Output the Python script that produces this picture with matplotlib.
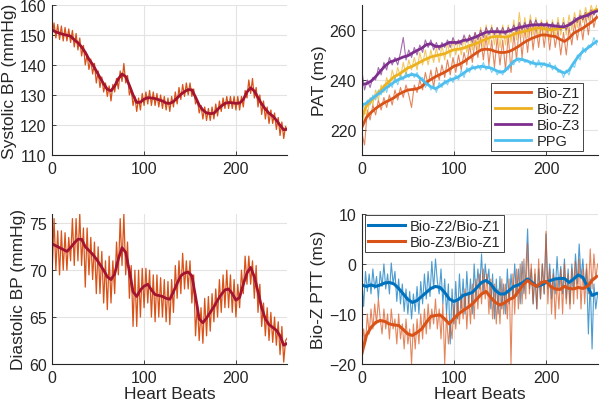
import numpy as np
import matplotlib
matplotlib.use('Agg')
import matplotlib.pyplot as plt

# ---------------- data ----------------
# blood pressure: raw every 2 beats, smoothed every 4 beats
bp_raw_beats = np.arange(0, 257, 2)
bp_smooth_beats = np.arange(0, 257, 4)

sbp_raw = [150, 154, 149, 153.5, 148.5, 153, 148, 152.5, 148, 152, 147.5, 151.5, 146, 150.5, 145, 149,
           143, 146.5, 140, 143.5, 138.5, 142, 137, 140.5, 134, 138, 132.5, 136, 131, 134, 129.5, 133,
           128, 133.5, 131, 135.5, 132, 138, 134.5, 140.5, 134, 136.5, 130, 132, 126.5, 129.5, 124.5, 129,
           125, 130.5, 126.5, 131, 127, 131.5, 126.5, 131, 126.5, 130.5, 126, 130, 125.5, 129.5, 125, 129,
           124.5, 129.5, 126, 131, 127, 132.5, 128.5, 133.5, 129.5, 134, 130, 134, 129.5, 132, 127, 128.5,
           124, 126.5, 122, 126, 121.5, 125.5, 121.5, 126, 122, 127, 123, 128, 124.5, 129, 125.5, 129.5,
           125.5, 129.5, 125.5, 129.5, 125, 129.5, 125, 129.5, 126, 131.5, 129, 135, 130.5, 135.5, 129, 132.5,
           126, 130, 123.5, 128, 122, 126, 120.5, 125, 120.5, 124, 118.5, 122.5, 116.5, 121, 115.5, 119.5,
           118]
sbp_smooth = [151.7, 151, 150.6, 150.2, 149.9, 149.6, 148.4, 147.4, 146, 144.2, 141.9, 140.2, 138, 135.8,
              133.7, 131.9, 131.4, 133, 135.4, 137, 136.1, 133.2, 130, 127.5, 127.6, 128.6, 129.1, 129,
              128.8, 128.4, 128, 127.3, 127.2, 127.8, 129, 130.2, 131.1, 131.8, 131.7, 129.3, 126.6, 125,
              124, 123.8, 123.9, 125.2, 126.3, 127.2, 127.5, 127.4, 127.2, 127.3, 128.5, 131, 132.4, 131.3,
              129.1, 127, 125.3, 123.9, 123, 121.6, 119.9, 118.4, 118.6]

dbp_raw = [70, 75.5, 70, 74.2, 69.5, 74.2, 70, 74, 70, 73.5, 71, 75.5, 70.5, 75.5, 71, 76,
           70.5, 74.5, 68.2, 74.5, 69.5, 73.5, 69, 73, 67.5, 72.5, 67.5, 72, 66.5, 71, 65.8, 71.5,
           66.5, 71, 67.5, 73, 69.5, 75.5, 70.5, 76, 69.5, 73, 67, 70.5, 64, 70, 64, 70,
           65, 70.2, 66, 70.2, 66.5, 70, 65, 69.5, 64.5, 69.5, 65, 69.2, 65, 69, 64.5, 68.8,
           64.2, 69, 65.5, 70.5, 67, 71, 67.5, 71.8, 68, 71, 68, 71, 66.5, 69.5, 63, 66.5,
           62.5, 66, 62.2, 67, 63, 67.2, 63.5, 67.5, 64.5, 68, 65, 69, 65.5, 69.5, 66, 70,
           66, 69.5, 65.5, 69, 65, 68.5, 66, 70, 67.5, 71.5, 68.5, 71.5, 68.5, 71, 67, 70.5,
           65.5, 68.5, 64, 66.5, 63, 66, 62.5, 65.5, 62.3, 65, 62, 64.5, 61, 64, 60.2, 62.5,
           62.8]
dbp_smooth = [72.8, 72.6, 72.4, 72.2, 72, 72.4, 72.9, 73.3, 73.3, 72.5, 72.1, 71.7, 71.2, 70.6, 70,
              69.3, 69, 69.6, 71.2, 72.4, 71.9, 69.9, 67.7, 67.2, 67.9, 68.3, 68.5, 67.9, 67.4, 67.3,
              67.2, 67, 66.9, 67.7, 68.6, 69.4, 69.7, 69.8, 69.4, 67.2, 64.8, 64.4, 64.9, 65.5, 66.1,
              66.8, 67.4, 67.9, 68, 67.5, 66.8, 67.1, 68.5, 69.7, 70.3, 69.3, 67.7, 66, 64.8, 64.2,
              63.9, 63.6, 63, 62, 62.2]

# pulse arrival time: raw every 3 beats, smoothed every 5 beats
pat_raw_beats = np.arange(0, 256, 3)
smooth5_beats = np.arange(0, 256, 5)
pat_names = ['Bio-Z1', 'Bio-Z2', 'Bio-Z3', 'PPG']

pat_z1_raw = [219, 214, 228, 224, 230, 226, 232, 228, 233, 229, 234, 230, 236, 232, 237, 233, 238, 234,
              229, 238, 235, 240, 236, 243, 238, 244, 237, 245, 240, 246, 241, 248, 242, 249, 243, 250,
              244, 251, 246, 254, 247, 256, 249, 257, 248, 258, 246, 256, 245, 257, 246, 256, 244, 258,
              243, 259, 248, 262, 249, 261, 251, 263, 252, 262, 253, 263, 253, 262, 252, 262, 253, 260,
              250, 259, 250, 261, 254, 263, 256, 264, 256, 266, 258, 268, 261, 266]
pat_z2_raw = [222, 227, 226, 233, 230, 236, 232, 238, 235, 241, 237, 244, 240, 245, 241, 247, 242, 248,
              244, 249, 244, 251, 246, 252, 246, 252, 247, 253, 247, 254, 248, 255, 249, 256, 250, 256,
              250, 257, 251, 258, 252, 259, 252, 261, 253, 262, 254, 262, 254, 261, 253, 262, 254, 262,
              255, 264, 256, 267, 257, 265, 257, 266, 258, 265, 257, 264, 257, 264, 256, 264, 257, 265,
              258, 265, 258, 266, 260, 267, 261, 268, 263, 269, 264, 270, 266, 270]
pat_z3_raw = [244, 236, 240, 237, 241, 240, 245, 242, 247, 244, 249, 246, 249, 246, 251, 257, 248, 252,
              249, 253, 250, 254, 251, 256, 253, 256, 252, 255, 252, 255, 253, 256, 253, 257, 254, 256,
              254, 258, 255, 258, 255, 259, 256, 260, 257, 261, 258, 261, 258, 261, 258, 261, 258, 261,
              259, 262, 259, 263, 260, 263, 260, 264, 261, 264, 261, 263, 261, 263, 260, 263, 260, 263,
              260, 263, 260, 263, 262, 265, 263, 266, 264, 267, 265, 268, 266, 268]
pat_ppg_raw = [232, 228, 232, 230, 234, 232, 236, 234, 238, 235, 239, 237, 241, 238, 242, 240, 243, 241,
               243, 241, 243, 240, 241, 237, 239, 236, 238, 235, 239, 237, 240, 238, 241, 239, 242, 240,
               244, 241, 245, 243, 246, 244, 246, 244, 247, 244, 246, 243, 245, 242, 244, 242, 245, 244,
               247, 246, 249, 247, 249, 247, 248, 246, 248, 245, 248, 245, 247, 245, 247, 244, 246, 243,
               244, 241, 244, 242, 246, 245, 250, 248, 253, 251, 254, 253, 257, 254]

pat_z1_smooth = [221, 225, 227, 228.6, 229.9, 231, 231.9, 232.9, 234.3, 235.2, 236, 236.2, 236.5, 237.3,
                 239.1, 240.2, 241.3, 242.2, 243.1, 244.2, 245.5, 246.1, 247.1, 248.4, 249.7, 251, 252.1,
                 252.3, 252.1, 251.4, 251, 251, 251.4, 252.3, 253.4, 254.7, 255.8, 256.7, 257.4, 258, 258,
                 257.6, 257.4, 256.3, 255.4, 256.7, 258.7, 259.7, 260.7, 262, 263.3, 265]
pat_z2_smooth = [225, 229.6, 231.6, 233.6, 235.6, 237.8, 239.5, 241.3, 242.2, 243.5, 244.8, 245.5, 246.5,
                 247.5, 248.4, 249.2, 249.7, 250.1, 250.5, 251.4, 252.1, 252.3, 252.7, 253.4, 254.1, 254.7,
                 255.6, 256.3, 257.1, 257.4, 257.4, 257.1, 257.4, 258.3, 258.9, 259.3, 259.7, 260.3, 260.7,
                 260.7, 260.3, 260, 260.3, 260.7, 261.1, 262, 263.3, 264.2, 265.3, 266.3, 267.3, 268.2]
pat_z3_smooth = [238.2, 238.5, 239.5, 241.3, 243.5, 245.5, 247.1, 247.7, 248.4, 249.2, 249.7, 250.8, 251.8,
                 252.7, 254.1, 254.5, 253.4, 253.4, 254.1, 255, 255, 255, 255.8, 256, 256.7, 257.4, 258.3,
                 259.1, 259.3, 259.3, 259.3, 259.1, 259.6, 260.3, 260.9, 261.3, 261.7, 262, 262.1, 262.1,
                 262.1, 261.8, 261.6, 261.3, 261.3, 262, 263.3, 264.6, 265.3, 265.9, 266.9, 267.5]
pat_ppg_smooth = [229.9, 230.7, 232.3, 233.6, 234.9, 236.5, 237.8, 239.1, 240.2, 240.9, 241.8, 242.2, 241.8,
                  240.2, 238.6, 237.3, 236.5, 237.6, 238.9, 239.9, 240.5, 241.3, 242.6, 243.9, 244.8, 245.1,
                  245.5, 245.1, 244.8, 243.9, 243.1, 243.5, 245.5, 247.5, 248.4, 248.1, 247.5, 246.8, 246.4,
                  246.5, 246.1, 245.5, 244.8, 243.5, 242.8, 243.9, 246.8, 249.4, 251.4, 252.7, 254.1, 255.4]

# bio-z pulse transit time differences: raw every 2 beats, smoothed every 5 beats
ptt_raw_beats = np.arange(0, 257, 2)
ptt_names = ['Bio-Z2/Bio-Z1', 'Bio-Z3/Bio-Z1']

ptt_21_raw = [-3, -8.5, -1.5, -5.5, -2, -6, -1, -5, -2.5, -7, -1.5, -4.5, 0, -5, -2, -6,
              0.2, -4, -1.5, -7.5, -3, -8, -4, -9.5, -5, -10, -5.5, -11, -6, -9.5, -4.5, -10,
              -3.5, -8, -2, -7, -1.5, -6.5, 0.5, -5, 1, -3.5, -6, -1, -8, -3, -10, -4,
              -16, -5, -12, -3.5, -11, -2, -9, -3, -10, -1.5, -8, -3, -10, 0, -7, -1,
              -5, 2, -6, 0, -4, -1, -9, -2, -11, -3, -10, -2.5, -9, -4, -10, -1,
              -8, -2, -7, 0, -6.5, -1, -8, 0.5, -6, -2, 7, -5, -1, -8, -2, -9,
              -1, -7, 0, -6, 6, -5, 0, -7, -1, -6, 1.5, -5, -0.5, -6, 1, -7,
              -1, -8, 0, -5, 2, -4, 4, -3, 1, -5, -1, -14, -3, -17, -4, -9,
              -6]
ptt_31_raw = [-19, -13, -16, -10, -14, -9, -13, -8, -12, -7, -11, -14, -9, -13, -10, -15,
              -9, -13, -11, -16, -10, -15, -12, -17, -11, -16, -13, -20, -12, -17, -11, -16,
              -10, -15, -9, -14, -8, -13, -9, -12, -7, -13, -9, -15, -8, -20, -10, -16,
              -12, -15, -8, -13, -7, -12, -6, -11, -5, -13, -6, -12, -4, -11, -3, -9,
              -2, -8, -1, -7, -2, -10, -3, -11, -4, -12, -5, -12, -3, -10, -4, -11,
              -3, -20, -2, -10, -1, -9, 0, -8, 1, -7, 4, -6, 0, -8, -1, -9,
              1, -7, 0, -6, 6.5, -8, -1, -10, -2, -11, -3, -9, -1, -10, 0, -8,
              -2, -9, -1, -8, 0.5, -7, 1, -9, -1, -8, 0, -6, 3, -5, 2, -3,
              0]
ptt_21_smooth = [-4.2, -4.5, -4.2, -4.5, -4.2, -3.8, -3.7, -4, -4.9, -6, -7.1, -7.7, -7.3, -6.5, -5.7,
                 -4.9, -4.5, -4.7, -5.7, -7, -7.5, -7.1, -6.3, -6, -5.7, -4.7, -3.7, -3.3, -4, -5.3,
                 -6, -6, -5.3, -4.5, -4.2, -3.7, -3, -3.7, -4.5, -4.2, -3.7, -3.3, -3, -2.9, -2.9,
                 -3.7, -3, -2.2, -2.7, -4.5, -6.3, -5.9]
ptt_31_smooth = [-18, -14.3, -12.7, -11.7, -11.3, -11.5, -12, -12.2, -12.3, -13.1, -14, -14.3, -13.7, -13,
                 -11.7, -10.5, -10.3, -10.2, -11, -12, -10.9, -10, -9.3, -8.7, -8, -7, -6, -5.5, -6.7,
                 -7.7, -8.2, -7.8, -7.1, -6.7, -5.5, -4.2, -3.3, -4, -4.5, -3.7, -3.5, -4.5, -5, -5.1,
                 -4.5, -4.9, -5, -4.7, -4.9, -4.5, -3.3, -2.5]

# ---------------- style ----------------
plt.rcParams['font.family'] = ['Liberation Sans', 'DejaVu Sans']
text_col = '#262626'
plt.rcParams['text.color'] = text_col
plt.rcParams['axes.labelcolor'] = text_col
plt.rcParams['xtick.color'] = text_col
plt.rcParams['ytick.color'] = text_col

c_orange = '#D95319'
c_red = '#A2142F'
c_yellow = '#EDB120'
c_purple = '#7E2F8E'
c_cyan = '#4DBEEE'
c_blue = '#0072BD'

fig = plt.figure(figsize=(6, 4.1), dpi=100)
ax_sbp = fig.add_axes([0.087, 0.6195, 0.392, 0.366])
ax_pat = fig.add_axes([0.603, 0.6195, 0.393, 0.366])
ax_dbp = fig.add_axes([0.087, 0.1098, 0.392, 0.366])
ax_ptt = fig.add_axes([0.603, 0.1098, 0.393, 0.366])


def style_axis(ax):
    ax.grid(True, color='#e3e3e3', linewidth=0.8)
    ax.set_axisbelow(True)
    ax.spines['top'].set_visible(False)
    ax.spines['right'].set_visible(False)
    ax.spines['left'].set_color(text_col)
    ax.spines['bottom'].set_color(text_col)
    ax.tick_params(direction='in', length=3, width=0.6, labelsize=11.5, pad=4)
    ax.set_xlim(0, 256)
    ax.set_xticks([0, 100, 200])


# systolic
ax_sbp.plot(bp_raw_beats, sbp_raw, color=c_orange, linewidth=0.9)
ax_sbp.plot(bp_smooth_beats, sbp_smooth, color=c_red, linewidth=2)
style_axis(ax_sbp)
ax_sbp.set_ylim(110, 160)
ax_sbp.set_yticks([110, 120, 130, 140, 150, 160])
ax_sbp.set_ylabel('Systolic BP (mmHg)', fontsize=12.5, labelpad=2)

# diastolic
ax_dbp.plot(bp_raw_beats, dbp_raw, color=c_orange, linewidth=0.9)
ax_dbp.plot(bp_smooth_beats, dbp_smooth, color=c_red, linewidth=2)
style_axis(ax_dbp)
ax_dbp.set_ylim(60, 76)
ax_dbp.set_yticks([60, 65, 70, 75])
ax_dbp.set_ylabel('Diastolic BP (mmHg)', fontsize=12.5, labelpad=2)
ax_dbp.set_xlabel('Heart Beats', fontsize=12.5, labelpad=1)

# PAT
pat_raw = [pat_z1_raw, pat_z2_raw, pat_z3_raw, pat_ppg_raw]
pat_smooth = [pat_z1_smooth, pat_z2_smooth, pat_z3_smooth, pat_ppg_smooth]
pat_colors = [c_orange, c_yellow, c_purple, c_cyan]
for vals, col in zip(pat_raw, pat_colors):
    ax_pat.plot(pat_raw_beats, vals, color=col, linewidth=0.8, alpha=0.7)
for vals, col, name in zip(pat_smooth, pat_colors, pat_names):
    ax_pat.plot(smooth5_beats, vals, color=col, linewidth=2, label=name)
style_axis(ax_pat)
ax_pat.set_ylim(210, 270)
ax_pat.set_yticks([220, 240, 260])
ax_pat.set_ylabel('PAT (ms)', fontsize=12.5, labelpad=2)
leg = ax_pat.legend(loc='lower right', fontsize=10.5, handlelength=2.5, borderpad=0.25,
                    labelspacing=0.12, handletextpad=0.35, borderaxespad=0, fancybox=False,
                    framealpha=1, edgecolor='#262626', bbox_to_anchor=(0.94, 0.025))
leg.get_frame().set_linewidth(0.6)

# PTT
ptt_raw = [ptt_21_raw, ptt_31_raw]
ptt_smooth = [ptt_21_smooth, ptt_31_smooth]
ptt_colors = [c_blue, c_orange]
for vals, col in zip(ptt_raw, ptt_colors):
    ax_ptt.plot(ptt_raw_beats, vals, color=col, linewidth=0.8, alpha=0.7)
for vals, col, name in zip(ptt_smooth, ptt_colors, ptt_names):
    ax_ptt.plot(smooth5_beats, vals, color=col, linewidth=2.2, label=name)
style_axis(ax_ptt)
ax_ptt.set_ylim(-20, 10)
ax_ptt.set_yticks([-20, -10, 0, 10])
ax_ptt.set_ylabel('Bio-Z PTT (ms)', fontsize=12.5, labelpad=2)
ax_ptt.set_xlabel('Heart Beats', fontsize=12.5, labelpad=1)
leg2 = ax_ptt.legend(loc='upper left', fontsize=10.5, handlelength=2.5, borderpad=0.25,
                     labelspacing=0.12, handletextpad=0.35, borderaxespad=0, fancybox=False,
                     framealpha=1, edgecolor='#262626', bbox_to_anchor=(0.012, 0.99))
leg2.get_frame().set_linewidth(0.6)

fig.savefig('out.png', dpi=100)
